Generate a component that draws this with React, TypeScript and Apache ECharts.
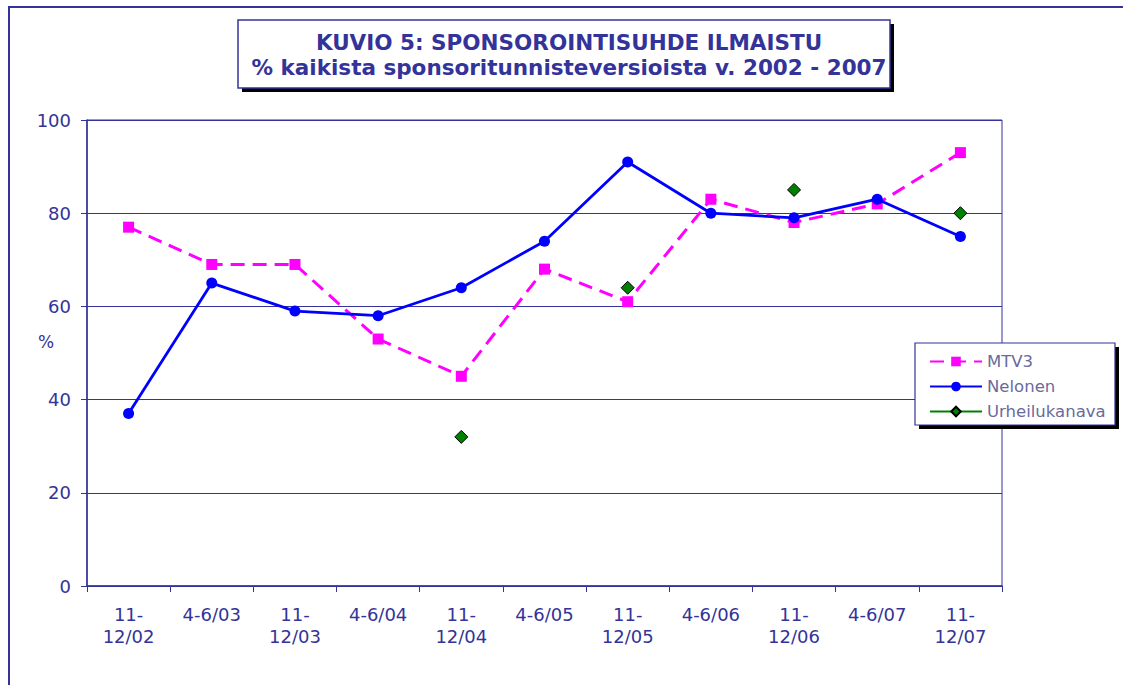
import React, { useEffect, useRef } from "react";
import * as echarts from "echarts";

const categories = [
  "11-\n12/02", "4-6/03", "11-\n12/03", "4-6/04", "11-\n12/04", "4-6/05",
  "11-\n12/05", "4-6/06", "11-\n12/06", "4-6/07", "11-\n12/07",
];
const mtv3 = [77, 69, 69, 53, 45, 68, 61, 83, 78, 82, 93];
const nelonen = [37, 65, 59, 58, 64, 74, 91, 80, 79, 83, 75];
const urheilukanava = [null, null, null, null, 32, null, 64, null, 85, null, 80];
const yTicks = { min: 0, max: 100, interval: 20 };
const titleLines = [
  "KUVIO 5: SPONSOROINTISUHDE ILMAISTU",
  "% kaikista sponsoritunnisteversioista v. 2002 - 2007",
];

const NAVY = "#333399";
const FONT = "DejaVu Sans, Verdana, sans-serif";

export default function App() {
  const ref = useRef<HTMLDivElement>(null);
  useEffect(() => {
    document.body.style.margin = "0";
    const chart = echarts.init(ref.current!, undefined, { renderer: "svg" });
    chart.setOption({
      animation: false,
      backgroundColor: "#ffffff",
      textStyle: { fontFamily: FONT },
      title: {
        text: titleLines.join("\n"),
        left: 564,
        top: 25,
        textAlign: "center",
        textStyle: {
          color: NAVY,
          fontSize: 21.5,
          fontWeight: "bold",
          fontFamily: FONT,
          lineHeight: 25,
        },
        z: 10,
      },
      graphic: [
        {
          type: "rect",
          z: 0,
          shape: { x: 9, y: 7, width: 1200, height: 800 },
          style: { fill: "none", stroke: NAVY, lineWidth: 2 },
        },
        {
          type: "rect",
          z: 1,
          shape: { x: 242, y: 24, width: 652, height: 68 },
          style: { fill: "#000000" },
        },
        {
          type: "rect",
          z: 2,
          shape: { x: 238, y: 20, width: 652, height: 68 },
          style: { fill: "#ffffff", stroke: NAVY, lineWidth: 1.5 },
        },
        {
          type: "rect",
          z: 1,
          shape: { x: 919, y: 347, width: 200, height: 82 },
          style: { fill: "#000000" },
        },
        {
          type: "rect",
          z: 2,
          shape: { x: 915, y: 343, width: 200, height: 82 },
          style: { fill: "#ffffff", stroke: NAVY, lineWidth: 1.2 },
        },
        {
          type: "text",
          z: 10,
          x: 46,
          y: 342,
          style: {
            text: "%",
            fill: NAVY,
            font: `17px ${FONT}`,
            align: "center",
            verticalAlign: "middle",
          },
        },
      ],
      legend: {
        orient: "vertical",
        left: 924,
        top: 348,
        itemWidth: 52,
        itemHeight: 12,
        itemGap: 8,
        z: 10,
        textStyle: { color: "#6a6a9c", fontSize: 16.5, fontFamily: FONT },
        data: ["MTV3", "Nelonen", "Urheilukanava"],
      },
      grid: {
        left: 87,
        top: 120,
        right: 121,
        bottom: 99,
        show: true,
        borderColor: NAVY,
        borderWidth: 1,
        backgroundColor: "transparent",
      },
      xAxis: {
        type: "category",
        data: categories,
        boundaryGap: true,
        axisLine: { lineStyle: { color: NAVY, width: 1.5 } },
        axisTick: { show: true, length: 6, alignWithLabel: false, lineStyle: { color: NAVY } },
        axisLabel: {
          color: NAVY,
          fontSize: 18,
          fontFamily: FONT,
          margin: 17,
          lineHeight: 22,
          interval: 0,
        },
      },
      yAxis: {
        type: "value",
        min: yTicks.min,
        max: yTicks.max,
        interval: yTicks.interval,
        axisLine: { show: true, lineStyle: { color: NAVY, width: 1.5 } },
        axisTick: { show: true, length: 6, lineStyle: { color: NAVY } },
        axisLabel: { color: NAVY, fontSize: 18, fontFamily: FONT, margin: 16 },
        splitLine: { show: true, lineStyle: { color: NAVY, width: 1 } },
      },
      series: [
        {
          name: "MTV3",
          type: "line",
          data: mtv3,
          symbol: "rect",
          symbolSize: 11,
          z: 3,
          itemStyle: { color: "#ff00ff" },
          lineStyle: { color: "#ff00ff", width: 3, type: [14, 8] },
        },
        {
          name: "Nelonen",
          type: "line",
          data: nelonen,
          symbol: "circle",
          symbolSize: 11,
          z: 4,
          itemStyle: { color: "#0000ff" },
          lineStyle: { color: "#0000ff", width: 2.8 },
        },
        {
          name: "Urheilukanava",
          type: "line",
          data: urheilukanava,
          connectNulls: false,
          symbol: "diamond",
          symbolSize: 13,
          showAllSymbol: true,
          z: 5,
          itemStyle: { color: "#008000", borderColor: "#000000", borderWidth: 1 },
          lineStyle: { color: "#008000", width: 1 },
        },
      ],
    });
    return () => chart.dispose();
  }, []);
  return <div ref={ref} style={{ width: 1123, height: 685 }} />;
}
